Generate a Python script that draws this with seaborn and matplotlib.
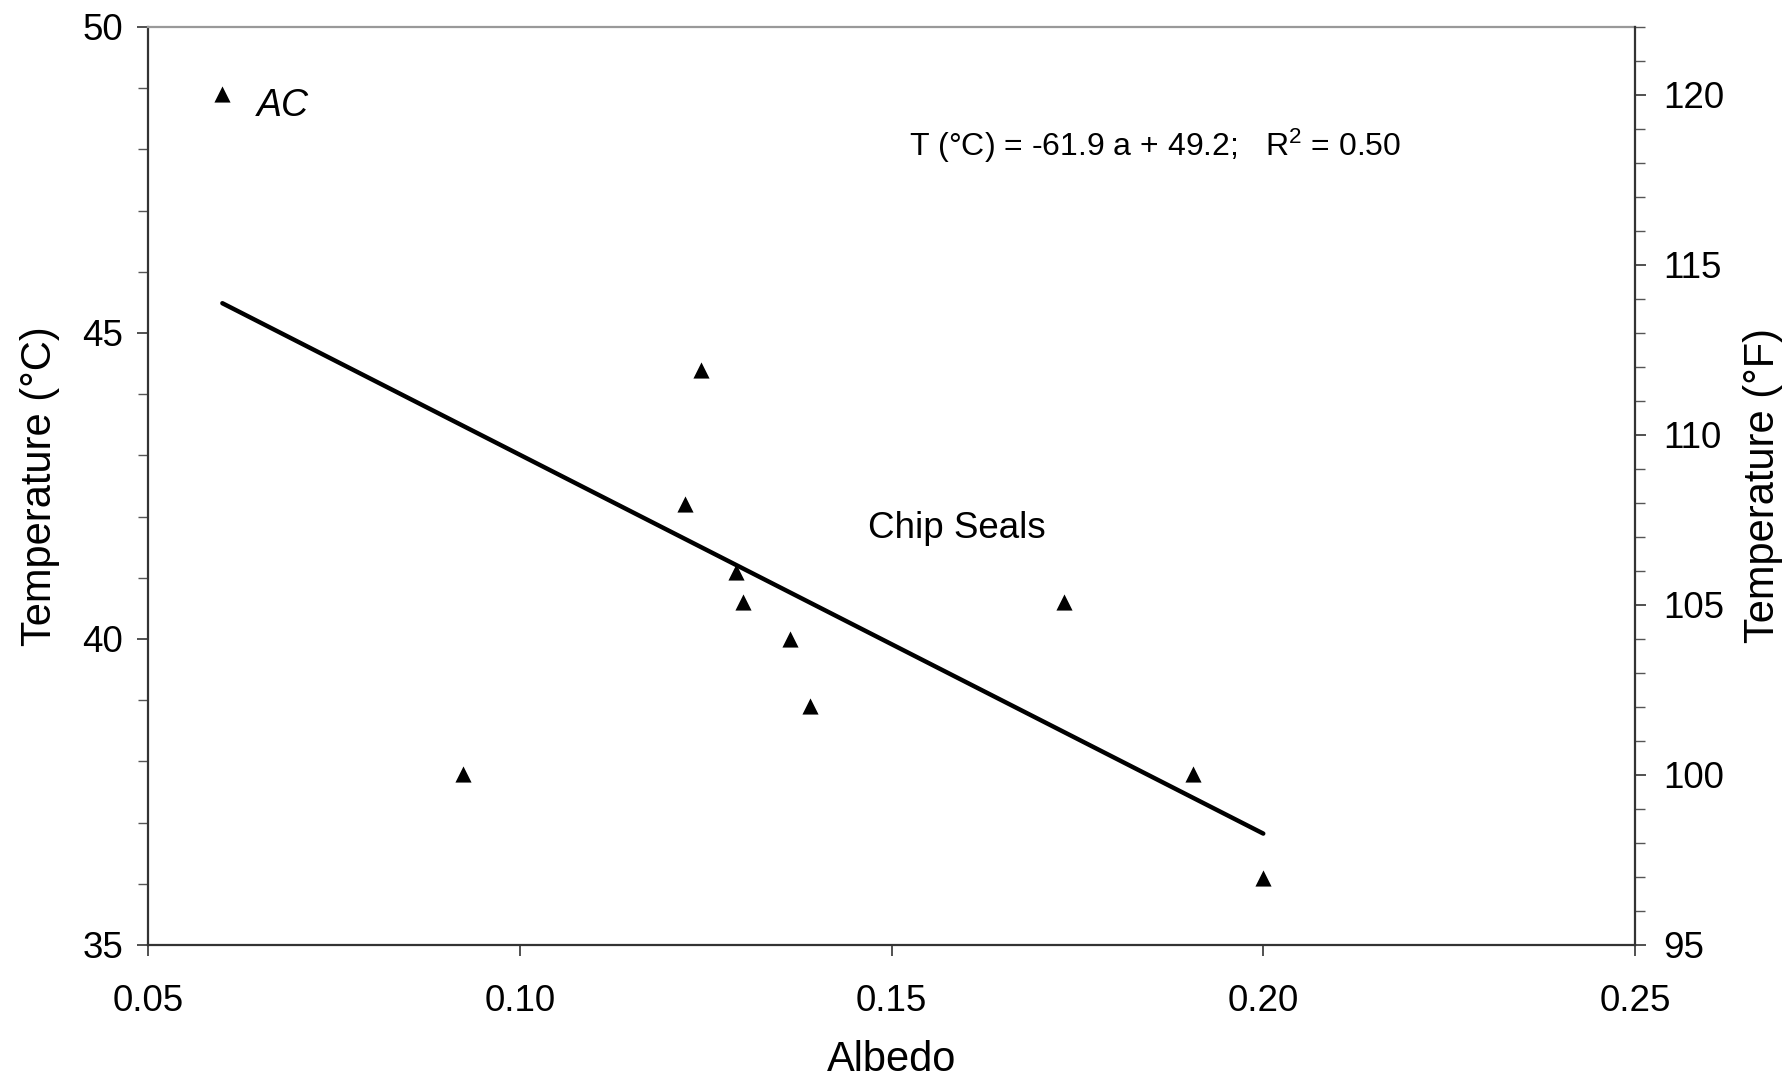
import numpy as np
import pandas as pd
import matplotlib
matplotlib.use("Agg")
import matplotlib.pyplot as plt
from matplotlib.ticker import MultipleLocator
import seaborn as sns

# valores (albedo vs temperatura superficial)
albedo = [0.060, 0.0923, 0.1222, 0.1244, 0.1291, 0.1300, 0.1363, 0.1391, 0.1732, 0.1906, 0.2000]
temp_c = [48.9, 37.8, 42.2, 44.4, 41.1, 40.6, 40.0, 38.9, 40.6, 37.8, 36.1]

# recta de ajuste indicada en el grafico
slope = -61.9
intercept = 49.2
fit_x = [0.06, 0.20]

x_ticks = [0.05, 0.10, 0.15, 0.20, 0.25]
c_ticks = [35, 40, 45, 50]
f_ticks = [95, 100, 105, 110, 115, 120]


def main():
    sns.set_style("ticks")
    plt.rcParams["font.family"] = ["Liberation Sans", "DejaVu Sans"]
    plt.rcParams["mathtext.fontset"] = "custom"
    plt.rcParams["mathtext.rm"] = "Liberation Sans"
    plt.rcParams["mathtext.it"] = "Liberation Sans:italic"
    plt.rcParams["text.color"] = "black"
    plt.rcParams["axes.labelcolor"] = "black"

    df = pd.DataFrame({"albedo": albedo, "temp": temp_c})
    fit = pd.DataFrame({"albedo": fit_x,
                        "temp": [slope * a + intercept for a in fit_x]})

    fig = plt.figure(figsize=(17.92, 10.78), dpi=100)
    ax = fig.add_axes([0.0826, 0.1234, 0.8298, 0.8516])

    sns.lineplot(data=fit, x="albedo", y="temp", ax=ax, color="black",
                 linewidth=3.2, zorder=2)
    sns.scatterplot(data=df, x="albedo", y="temp", ax=ax, marker="^",
                    color="black", s=135, linewidth=0, zorder=3)

    ax.set_xlim(0.05, 0.25)
    ax.set_ylim(35, 50)
    ax.set_xticks(x_ticks)
    ax.set_xticklabels([f"{t:.2f}" for t in x_ticks])
    ax.set_yticks(c_ticks)
    ax.yaxis.set_minor_locator(MultipleLocator(1))

    ax.set_xlabel("Albedo", fontsize=30, labelpad=15)
    ax.set_ylabel("Temperature (°C)", fontsize=30, labelpad=16)
    ax.tick_params(axis="both", which="major", labelsize=26.5, length=8,
                   width=1.2, color="#333333", labelcolor="black")
    ax.tick_params(axis="x", pad=20)
    ax.tick_params(axis="y", pad=10)
    ax.tick_params(axis="y", which="minor", length=7, width=1.0, color="#555555")

    for side in ["left", "bottom"]:
        ax.spines[side].set_color("#333333")
        ax.spines[side].set_linewidth(1.6)
    ax.spines["top"].set_color("#999999")
    ax.spines["top"].set_linewidth(1.6)
    ax.spines["right"].set_visible(False)

    # eje derecho en Fahrenheit
    ax2 = ax.twinx()
    lo, hi = ax.get_ylim()
    ax2.set_ylim(lo * 9 / 5 + 32, hi * 9 / 5 + 32)
    ax2.set_yticks(f_ticks)
    ax2.yaxis.set_minor_locator(MultipleLocator(1))
    ax2.set_ylabel("Temperature (°F)", fontsize=30, labelpad=14)
    ax2.tick_params(axis="y", which="major", labelsize=26.5, length=8,
                    width=1.2, color="#333333", labelcolor="black", pad=12)
    ax2.tick_params(axis="y", which="minor", length=7, width=1.0, color="#555555")
    for side in ["left", "top", "bottom"]:
        ax2.spines[side].set_visible(False)
    ax2.spines["right"].set_color("#333333")
    ax2.spines["right"].set_linewidth(1.6)

    # textos
    ax.text(0.0647, 48.55, "AC", fontsize=27, style="italic", va="baseline")
    ax.text(0.1524, 47.89, "T (°C) = -61.9 a + 49.2;   R$^2$ = 0.50",
            fontsize=23, va="baseline")
    ax.text(0.1468, 41.65, "Chip Seals", fontsize=26.5, va="baseline")

    if ax.get_legend() is not None:
        ax.get_legend().remove()

    fig.savefig("out.png", dpi=100)


if __name__ == "__main__":
    main()
